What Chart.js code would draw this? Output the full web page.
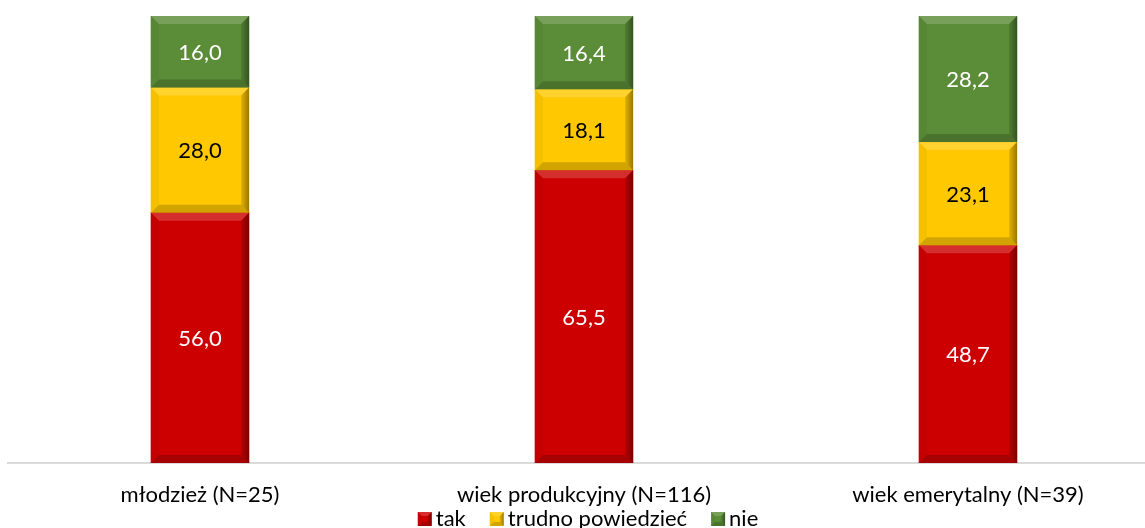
<!DOCTYPE html>
<html>
<head>
<meta charset="utf-8">
<script src="https://cdn.jsdelivr.net/npm/chart.js@4"></script>
<style>
  html, body { margin: 0; padding: 0; background: #fff; overflow: hidden; }
  #wrap { width: 1160px; height: 528px; }
</style>
</head>
<body>
<div id="wrap"><canvas id="chart"></canvas></div>
<script>
// --- Data ---
const categories = ['młodzież (N=25)', 'wiek produkcyjny (N=116)', 'wiek emerytalny (N=39)'];
const seriesNames = ['tak', 'trudno powiedzieć', 'nie'];
const takValues = [56.0, 65.5, 48.7];
const trudnoValues = [28.0, 18.1, 23.1];
const nieValues = [16.0, 16.4, 28.2];

const colors = ['#CC0000', '#FFC800', '#5B8C38'];
const labelColors = ['#ffffff', '#000000', '#ffffff'];
const FONT = 'Lato, "Open Sans", sans-serif';

function drawBevel(ctx, l, t, w, h, color, b) {
    const r = l + w, bot = t + h;
    b = Math.min(b, w / 2, h / 2);
    ctx.save();
    ctx.fillStyle = color;
    ctx.fillRect(l, t, w, h);
    const poly = (pts, fill) => {
        ctx.beginPath();
        ctx.moveTo(pts[0][0], pts[0][1]);
        for (let i = 1; i < pts.length; i++) ctx.lineTo(pts[i][0], pts[i][1]);
        ctx.closePath();
        ctx.fillStyle = fill;
        ctx.fill();
    };
    poly([[l, t], [r, t], [r - b, t + b], [l + b, t + b]], 'rgba(255,255,255,0.18)');
    poly([[l, t], [l + b, t + b], [l + b, bot - b], [l, bot]], 'rgba(0,0,0,0.04)');
    const gr = ctx.createLinearGradient(r - b, 0, r, 0);
    gr.addColorStop(0, 'rgba(0,0,0,0.10)');
    gr.addColorStop(1, 'rgba(0,0,0,0.40)');
    poly([[r, t], [r, bot], [r - b, bot - b], [r - b, t + b]], gr);
    poly([[l, bot], [r, bot], [r - b, bot - b], [l + b, bot - b]], 'rgba(0,0,0,0.18)');
    ctx.restore();
}

const bevelPlugin = {
    id: 'bevel',
    afterDatasetsDraw(chart) {
        const ctx = chart.ctx;
        chart.data.datasets.forEach((ds, di) => {
            const meta = chart.getDatasetMeta(di);
            meta.data.forEach((bar, i) => {
                const p = bar.getProps(['x', 'y', 'base', 'width'], true);
                const l = p.x - p.width / 2;
                const t = Math.min(p.y, p.base);
                const h = Math.abs(p.base - p.y);
                drawBevel(ctx, l, t, p.width, h, ds.backgroundColor, 8);
                ctx.save();
                ctx.fillStyle = labelColors[di];
                ctx.font = '22px ' + FONT;
                ctx.textAlign = 'center';
                ctx.textBaseline = 'middle';
                ctx.fillText(ds.data[i].toFixed(1).replace('.', ','), p.x, t + h / 2 + 1);
                ctx.restore();
            });
        });
    }
};

// legend drawn by hand so it sits tight under the axis labels
const legendPlugin = {
    id: 'bottomLegend',
    afterDraw(chart) {
        const ctx = chart.ctx;
        const box = 14, gap = 4, itemGap = 24;
        ctx.save();
        ctx.font = '22px ' + FONT;
        const widths = seriesNames.map(n => box + gap + ctx.measureText(n).width);
        const total = widths.reduce((a, b) => a + b, 0) + itemGap * (widths.length - 1);
        let x = (chart.chartArea.left + chart.chartArea.right) / 2 + 4 - total / 2;
        const y = 519;
        seriesNames.forEach((n, i) => {
            drawBevel(ctx, x, y - 7, box, box, colors[i], 4);
            ctx.fillStyle = '#000';
            ctx.textAlign = 'left';
            ctx.textBaseline = 'middle';
            ctx.fillText(n, x + box + gap, y);
            x += widths[i] + itemGap;
        });
        ctx.restore();
    }
};

const seriesValues = [takValues, trudnoValues, nieValues];

new Chart(document.getElementById('chart'), {
    type: 'bar',
    data: {
        labels: categories,
        datasets: seriesNames.map((name, i) => ({
            label: name,
            data: seriesValues[i],
            backgroundColor: colors[i],
            borderWidth: 0,
            barThickness: 98
        }))
    },
    options: {
        responsive: true,
        maintainAspectRatio: false,
        animation: false,
        layout: { padding: { left: 8, right: 0, top: 16, bottom: 0 } },
        plugins: {
            legend: { display: false },
            tooltip: { enabled: false }
        },
        scales: {
            x: {
                stacked: true,
                grid: { display: false },
                border: { color: '#d9d9d9', width: 2 },
                ticks: {
                    color: '#000',
                    font: { family: FONT, size: 22 },
                    padding: 11
                },
                afterFit(scale) { scale.height = 65; }
            },
            y: {
                stacked: true,
                display: false,
                min: 0,
                max: 100
            }
        }
    },
    plugins: [bevelPlugin, legendPlugin]
});
</script>
</body>
</html>
